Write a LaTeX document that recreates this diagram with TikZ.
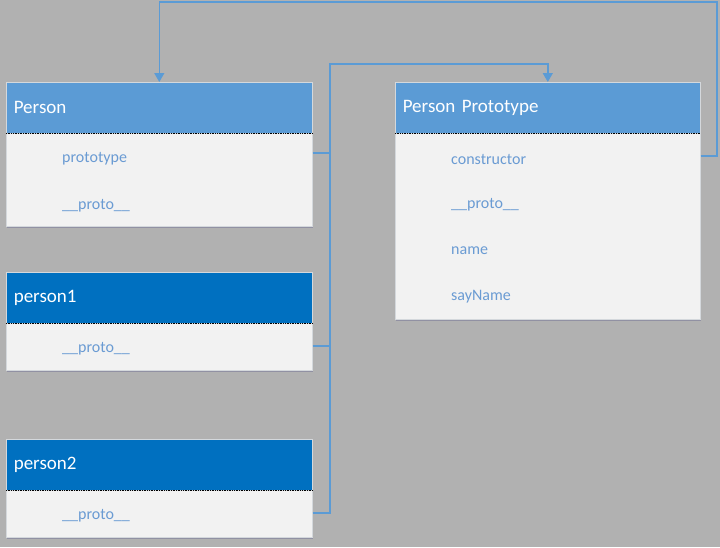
\documentclass[tikz,border=0pt]{standalone}
\usepackage{fontspec}
\setmainfont{Carlito}
\usetikzlibrary{arrows.meta,shadows}
\definecolor{bgGray}{HTML}{B1B1B1}
\definecolor{headLight}{HTML}{5B9BD5}
\definecolor{headDark}{HTML}{0070C0}
\definecolor{bodyGray}{HTML}{F2F2F2}
\definecolor{edgeGray}{HTML}{D4D8DC}
\definecolor{linkBlue}{HTML}{5B9BD5}
\definecolor{fieldBlue}{HTML}{6A9BD3}
\tikzset{
  head/.style={draw=edgeGray, line width=0.6pt, rectangle, anchor=north west,
    minimum width=306pt, minimum height=51pt, text width=291pt, inner xsep=7pt,
    align=left, text=white, font=\fontsize{19}{22}\selectfont},
  body/.style={draw=edgeGray, line width=0.6pt, fill=bodyGray, rectangle, anchor=north west,
    minimum width=306pt, inner sep=0pt,
    drop shadow={shadow xshift=1pt, shadow yshift=-2pt, opacity=0.18, fill=black!60!blue}},
  field/.style={anchor=west, inner sep=0pt, text=fieldBlue, font=\fontsize{16}{19}\selectfont},
  link/.style={draw=linkBlue, line width=1.4pt},
  tip/.style={-{Triangle[width=10pt,length=9pt]}}
}
\begin{document}
\begin{tikzpicture}[x=1pt,y=-1pt]
  \fill[bgGray] (0,0) rectangle (720,547);
  \useasboundingbox (0,0) rectangle (720,547);
  % Person
  \node[body, minimum height=93pt] (pBody) at (6,133) {};
  \node[head, fill=headLight] (pHead) at (6,82) {Person};
  \node[field] (pProtoType) at (62,159) {prototype};
  \node[field] (pProto) at (62,206) {\_\_proto\_\_};
  % person1
  \node[body, minimum height=47pt] (aBody) at (6,323) {};
  \node[head, fill=headDark] (aHead) at (6,272) {person1};
  \node[field] (aProto) at (62,349) {\_\_proto\_\_};
  % person2
  \node[body, minimum height=47pt] (bBody) at (6,490) {};
  \node[head, fill=headDark] (bHead) at (6,439) {person2};
  \node[field] (bProto) at (62,516) {\_\_proto\_\_};
  % Person Prototype
  \node[body, minimum height=186pt, minimum width=305pt] (ppBody) at (395,133) {};
  \node[head, fill=headLight, minimum width=305pt, text width=290pt] (ppHead) at (395,82) {Person Prototype};
  \node[field] (ppCtor) at (451,159) {constructor};
  \node[field] (ppProto) at (451,205) {\_\_proto\_\_};
  \node[field] (ppName) at (451,251) {name};
  \node[field] (ppSay) at (451,297) {sayName};
  % separators
  \foreach \h in {pHead,aHead,bHead,ppHead}
    \draw[black, densely dotted, line width=0.7pt] (\h.south west) -- (\h.south east);
  % connectors
  \coordinate (upLeft) at (330,64);
  \coordinate (upRight) at (717,2);
  \begin{scope}[link]
    \draw[tip] ([yshift=6pt]pBody.east |- pProtoType) -| (upLeft) -| (ppHead.north);
    \draw ([yshift=3pt]aBody.east |- aProto) -| (upLeft);
    \draw ([yshift=3pt]bBody.east |- bProto) -| (upLeft);
    \draw[tip] ([yshift=3pt]ppBody.east |- ppCtor) -| (upRight) -| (pHead.north);
  \end{scope}
\end{tikzpicture}
\end{document}
